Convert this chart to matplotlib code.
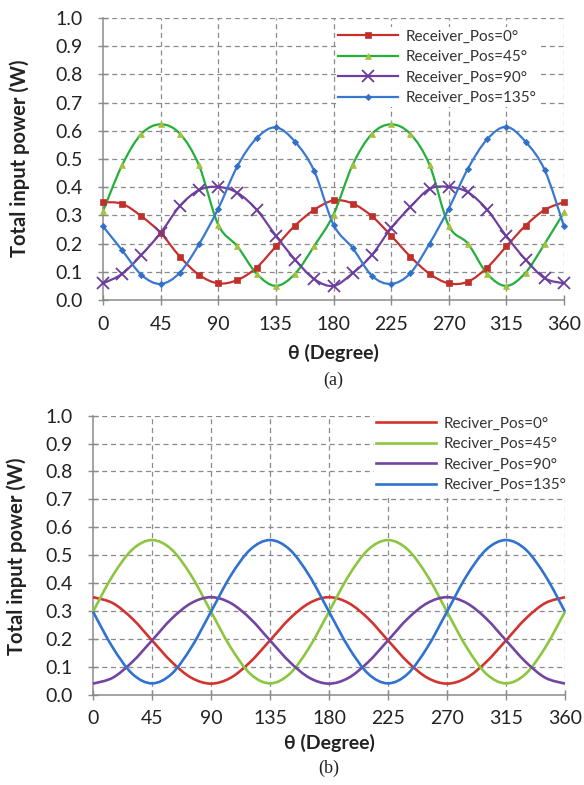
import numpy as np
import matplotlib
matplotlib.use("Agg")
import matplotlib.pyplot as plt
from matplotlib.path import Path
from matplotlib.patches import PathPatch
from matplotlib.lines import Line2D

# ---------------- data ----------------
theta = [0, 15, 30, 45, 60, 75, 90, 105, 120, 135, 150, 165, 180,
         195, 210, 225, 240, 255, 270, 285, 300, 315, 330, 345, 360]

# (a) measured, with markers
a_pos0 = [0.347, 0.341, 0.297, 0.238, 0.154, 0.089, 0.059, 0.071, 0.115, 0.190, 0.264, 0.320, 0.353,
          0.342, 0.297, 0.228, 0.154, 0.093, 0.059, 0.065, 0.115, 0.190, 0.264, 0.320, 0.347]
a_pos45 = [0.315, 0.479, 0.589, 0.623, 0.590, 0.477, 0.267, 0.190, 0.093, 0.050, 0.093, 0.192, 0.303,
           0.480, 0.589, 0.623, 0.589, 0.479, 0.264, 0.200, 0.093, 0.050, 0.097, 0.200, 0.311]
a_pos90 = [0.059, 0.093, 0.160, 0.238, 0.333, 0.390, 0.401, 0.380, 0.320, 0.228, 0.143, 0.074, 0.050,
           0.095, 0.160, 0.255, 0.330, 0.394, 0.401, 0.382, 0.320, 0.226, 0.143, 0.077, 0.059]
a_pos135 = [0.261, 0.176, 0.089, 0.057, 0.097, 0.198, 0.324, 0.475, 0.574, 0.612, 0.561, 0.457, 0.267,
            0.184, 0.086, 0.057, 0.095, 0.200, 0.324, 0.466, 0.570, 0.614, 0.561, 0.460, 0.261]

# (b) computed, smooth lines
b_pos0 = [0.349, 0.328, 0.272, 0.194, 0.117, 0.060, 0.039, 0.060, 0.117, 0.194, 0.272, 0.328, 0.349,
          0.328, 0.272, 0.194, 0.117, 0.060, 0.039, 0.060, 0.117, 0.194, 0.272, 0.328, 0.349]
b_pos45 = [0.297, 0.426, 0.520, 0.554, 0.520, 0.426, 0.297, 0.169, 0.074, 0.040, 0.074, 0.169, 0.297,
           0.426, 0.520, 0.554, 0.520, 0.426, 0.297, 0.169, 0.074, 0.040, 0.074, 0.169, 0.297]
b_pos90 = [0.039, 0.060, 0.117, 0.194, 0.272, 0.328, 0.349, 0.328, 0.272, 0.194, 0.117, 0.060, 0.039,
           0.060, 0.117, 0.194, 0.272, 0.328, 0.349, 0.328, 0.272, 0.194, 0.117, 0.060, 0.039]
b_pos135 = [0.297, 0.169, 0.074, 0.040, 0.074, 0.169, 0.297, 0.426, 0.520, 0.554, 0.520, 0.426, 0.297,
            0.169, 0.074, 0.040, 0.074, 0.169, 0.297, 0.426, 0.520, 0.554, 0.520, 0.426, 0.297]

labels_a = ["Receiver_Pos=0°", "Receiver_Pos=45°", "Receiver_Pos=90°", "Receiver_Pos=135°"]
labels_b = ["Reciver_Pos=0°", "Reciver_Pos=45°", "Reciver_Pos=90°", "Reciver_Pos=135°"]
xticks = [0, 45, 90, 135, 180, 225, 270, 315, 360]
yticks = [0.0, 0.1, 0.2, 0.3, 0.4, 0.5, 0.6, 0.7, 0.8, 0.9, 1.0]

# ---------------- style ----------------
FONT = ["Lato", "DejaVu Sans"]
plt.rcParams['font.family'] = FONT

W, H = 584, 785
fig = plt.figure(figsize=(W / 100, H / 100), dpi=100)


def px(x0, y0, x1, y1):
    return [x0 / W, 1 - y1 / H, (x1 - x0) / W, (y1 - y0) / H]


def smooth_path(x, y):
    pts = np.column_stack([np.asarray(x, float), np.asarray(y, float)])
    n = len(pts)
    verts = [pts[0]]
    codes = [Path.MOVETO]
    for i in range(n - 1):
        p0 = pts[i - 1] if i > 0 else pts[i]
        p1 = pts[i]
        p2 = pts[i + 1]
        p3 = pts[i + 2] if i + 2 < n else pts[i + 1]
        c1 = p1 + (p2 - p0) / 6.0
        c2 = p2 - (p3 - p1) / 6.0
        verts += [c1, c2, p2]
        codes += [Path.CURVE4] * 3
    return Path(verts, codes)


def style_axes(ax):
    ax.set_xlim(0, 360)
    ax.set_ylim(0, 1.0)
    ax.set_xticks(xticks)
    ax.set_yticks(yticks)
    ax.set_yticklabels([f"{v:.1f}" for v in yticks])
    ax.grid(True, linestyle=(0, (4, 3)), color="#8a8a8a", linewidth=0.9)
    ax.xaxis.get_gridlines()[0].set_visible(False)
    ax.yaxis.get_gridlines()[0].set_visible(False)
    ax.set_axisbelow(True)
    for s in ("top", "right"):
        ax.spines[s].set_visible(False)
    for s in ("left", "bottom"):
        ax.spines[s].set_color("#8a8a8a")
        ax.spines[s].set_linewidth(1.1)
    ax.tick_params(direction="inout", length=7, width=1.0, color="#8a8a8a",
                   labelsize=14, labelcolor="#222222")
    ax.tick_params(axis="x", pad=8)
    ax.tick_params(axis="y", pad=11)


# ---------------- (a) ----------------
ax1 = fig.add_axes(px(103, 18, 564, 300))
style_axes(ax1)
ca = ["#C8302E", "#22B03A", "#7040A0", "#3878D0"]
mca = ["#C0302A", "#A8C040", "#6A3C9C", "#3070C8"]
marks = ["s", "^", "x", "D"]
msz = [4.5, 4.8, 8, 3.2]
series_a = [a_pos0, a_pos45, a_pos90, a_pos135]
handles = []
for ys, c, mc, m, ms, lab in zip(series_a, ca, mca, marks, msz, labels_a):
    ax1.add_patch(PathPatch(smooth_path(theta, ys), fill=False, edgecolor=c, lw=1.6,
                            zorder=3, clip_on=False))
    ax1.plot(theta, ys, linestyle="none", marker=m, markersize=ms, color=mc,
             markeredgewidth=1.3 if m == "x" else 0.5, zorder=4, clip_on=False)
    handles.append(Line2D([], [], color=c, lw=1.6, marker=m, markersize=ms,
                          markerfacecolor=mc, markeredgecolor=mc,
                          markeredgewidth=1.3 if m == "x" else 0.5))
leg1 = ax1.legend(handles, labels_a, loc="upper left", bbox_to_anchor=(0.505, 0.967),
                  frameon=True, framealpha=1, edgecolor="none", facecolor="white",
                  fontsize=11, handlelength=3.9, handletextpad=0.5, labelspacing=0.42,
                  borderpad=0.15, borderaxespad=0)
for t in leg1.get_texts():
    t.set_color("#333333")

fig.text(20 / W, 1 - 158 / H, "Total input power (W)", rotation=90, ha="center", va="center",
         fontsize=14.5, fontweight="bold", color="#222222")
fig.text(333 / W, 1 - 353 / H, "θ (Degree)", ha="center", va="center",
         fontsize=14, fontweight="bold", color="#222222")
fig.text(333 / W, 1 - 380 / H, "(a)", ha="center", va="center",
         fontsize=13, family=["Liberation Serif", "DejaVu Serif"], color="#222222")

# ---------------- (b) ----------------
ax2 = fig.add_axes(px(93, 415.7, 565, 694.5))
style_axes(ax2)
cb = ["#D3332F", "#8CC63F", "#7345A0", "#2F72D0"]
series_b = [b_pos0, b_pos45, b_pos90, b_pos135]
handles_b = []
for ys, c, lab in zip(series_b, cb, labels_b):
    ax2.add_patch(PathPatch(smooth_path(theta, ys), fill=False, edgecolor=c, lw=1.9,
                            zorder=3, clip_on=False))
    handles_b.append(Line2D([], [], color=c, lw=1.9))
leg2 = ax2.legend(handles_b, labels_b, loc="upper left", bbox_to_anchor=(0.595, 1.005),
                  frameon=True, framealpha=1, edgecolor="none", facecolor="white",
                  fontsize=11, handlelength=3.9, handletextpad=0.5, labelspacing=0.42,
                  borderpad=0.15, borderaxespad=0)
for t in leg2.get_texts():
    t.set_color("#333333")

fig.text(17 / W, 1 - 556 / H, "Total input power (W)", rotation=90, ha="center", va="center",
         fontsize=14.5, fontweight="bold", color="#222222")
fig.text(329 / W, 1 - 743 / H, "θ (Degree)", ha="center", va="center",
         fontsize=14, fontweight="bold", color="#222222")
fig.text(329 / W, 1 - 768 / H, "(b)", ha="center", va="center",
         fontsize=13, family=["Liberation Serif", "DejaVu Serif"], color="#222222")

fig.savefig("out.png", dpi=100)
